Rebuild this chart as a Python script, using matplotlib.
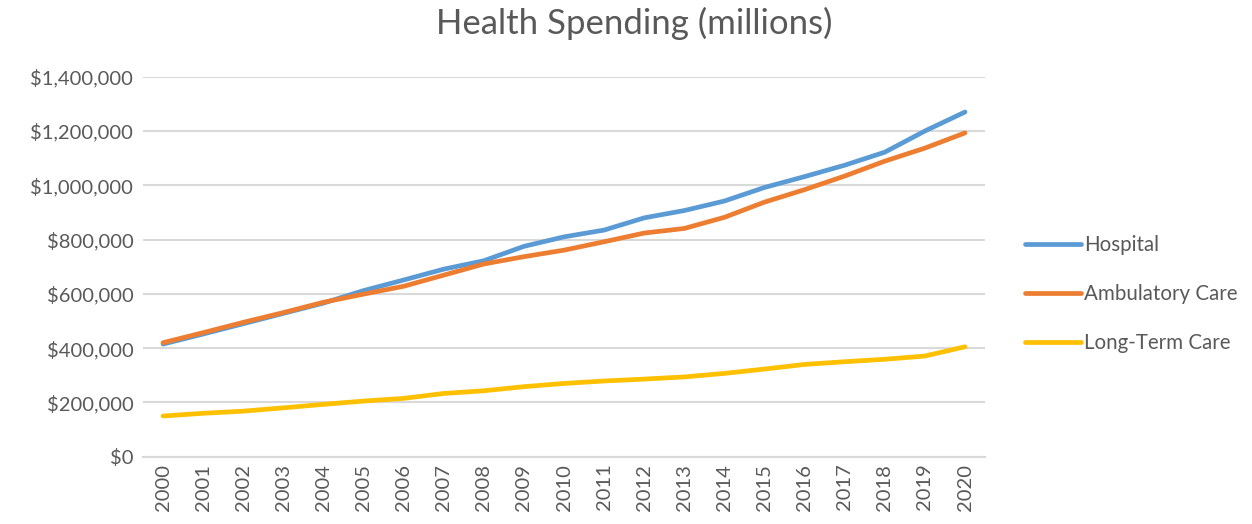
import matplotlib
matplotlib.use("Agg")
import matplotlib.pyplot as plt
from matplotlib.ticker import FuncFormatter, MultipleLocator

years = [str(y) for y in range(2000, 2021)]
hospital = [415000, 452000, 490000, 528000, 566000, 612000, 651000, 691000, 722000,
            775000, 810000, 835000, 880000, 907000, 942000, 992000, 1032000, 1074000,
            1122000, 1200000, 1270000]
ambulatory = [420000, 457000, 495000, 531000, 569000, 599000, 628000, 669000, 710000,
              737000, 761000, 792000, 824000, 841000, 882000, 938000, 984000, 1034000,
              1089000, 1137000, 1193000]
long_term = [150000, 160000, 168000, 180000, 193000, 205000, 215000, 233000, 243000,
             258000, 270000, 279000, 286000, 294000, 307000, 323000, 340000, 350000,
             359000, 371000, 405000]
series_names = ["Hospital", "Ambulatory Care", "Long-Term Care"]
colors = ["#5B9BD5", "#ED7D31", "#FFC000"]

plt.rcParams['font.family'] = ['Lato', 'DejaVu Sans']
text_color = "#595959"
grid_color = "#D9D9D9"

fig = plt.figure(figsize=(12.52, 5.24), dpi=100)
ax = fig.add_axes([0.1142, 0.1284, 0.6726, 0.7252])

x = list(range(len(years)))
for vals, name, c in zip([hospital, ambulatory, long_term], series_names, colors):
    ax.plot(x, vals, color=c, lw=3.4, label=name, solid_capstyle='round',
            solid_joinstyle='round', zorder=3)

ax.set_xlim(-0.5, len(years) - 0.5)
ax.set_ylim(0, 1400000)
ax.yaxis.set_major_locator(MultipleLocator(200000))
ax.yaxis.set_major_formatter(FuncFormatter(lambda v, p: f"${v:,.0f}"))
ax.set_xticks(x)
ax.set_xticklabels(years, rotation=90)
ax.grid(axis='y', color=grid_color, lw=1.5, zorder=0)
for s in ['top', 'right', 'left']:
    ax.spines[s].set_visible(False)
ax.spines['bottom'].set_color(grid_color)
ax.spines['bottom'].set_linewidth(1.5)
ax.tick_params(axis='both', length=0, labelsize=14.5, colors=text_color)
ax.tick_params(axis='y', pad=7)
ax.tick_params(axis='x', pad=5)

fig.text(0.5065, 0.955, "Health Spending (millions)", ha='center', va='center',
         fontsize=25, color=text_color)

leg = ax.legend(loc='center left', bbox_to_anchor=(0.8125, 0.439),
                bbox_transform=fig.transFigure, frameon=False, fontsize=14.8,
                handlelength=2.7, handletextpad=0.15, labelspacing=1.42,
                borderaxespad=0)
for t in leg.get_texts():
    t.set_color(text_color)

fig.savefig("out.png", dpi=100)
